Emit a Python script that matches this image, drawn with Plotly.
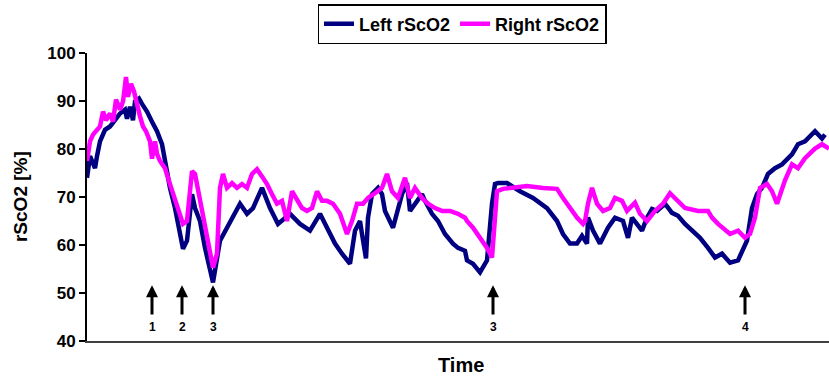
import plotly.graph_objects as go

# Time (arbitrary units) and rScO2 values
time_left = [0, 3, 6, 8, 10, 13, 18, 23, 28, 33, 38, 40, 43, 46, 48, 52, 55, 60, 65, 70, 75, 78,
             83, 88, 93, 96, 100, 103, 105, 108, 113, 118, 123, 126, 133, 140, 146, 153, 160, 166,
             175, 183, 191, 203, 213, 223, 233, 243, 248, 255, 263, 268, 273, 275, 279, 281, 285,
             291, 295, 298, 306, 315, 320, 323, 330, 335, 338, 345, 351, 358, 366, 371, 378, 380,
             386, 393, 400, 405, 408, 411, 415, 420, 433, 446, 460, 470, 476, 483, 490, 495, 500,
             501, 506, 513, 521, 528, 536, 541, 545, 550, 555, 560, 565, 570, 578, 585, 591, 598,
             605, 613, 621, 628, 635, 643, 651, 660, 665, 670, 675, 681, 688, 695, 705, 711, 718,
             728, 735, 738, 742]
left_rsco2 = [74.0, 78.5, 77.0, 76.0, 78.5, 81.6, 84.0, 84.7, 86.0, 87.4, 88.2, 86.3, 88.8, 86.0,
              89.9, 90.5, 89.4, 87.8, 85.7, 83.7, 81.0, 77.5, 71.9, 67.7, 62.3, 59.2, 60.9, 65.7,
              70.6, 67.7, 65.0, 59.4, 55.3, 52.2, 60.9, 63.6, 65.7, 68.6, 66.5, 67.7, 71.9, 67.7,
              64.4, 66.5, 64.4, 63.0, 66.5, 62.3, 60.3, 58.2, 56.1, 63.0, 65.0, 62.3, 57.2, 65.7,
              70.6, 71.9, 70.6, 67.1, 63.6, 70.6, 72.9, 67.1, 69.2, 70.6, 69.2, 66.5, 65.0, 62.3,
              60.3, 59.4, 58.8, 56.8, 56.1, 54.3, 56.8, 68.6, 72.7, 72.9, 72.9, 72.9, 71.2, 69.8,
              67.7, 65.0, 62.3, 60.3, 60.3, 61.9, 60.3, 65.7, 63.0, 60.3, 63.6, 65.7, 65.0, 61.5,
              65.7, 64.4, 63.0, 65.7, 67.5, 67.1, 68.6, 66.7, 66.1, 64.4, 63.0, 61.5, 59.4, 57.4,
              58.2, 56.3, 56.8, 60.9, 67.7, 70.6, 71.9, 74.8, 76.0, 76.8, 78.9, 81.0, 81.6, 83.7,
              82.2, 83.0]

time_right = [0, 3, 6, 9, 13, 16, 19, 23, 26, 29, 33, 36, 39, 41, 44, 47, 50, 53, 56, 59, 63, 65,
              68, 70, 73, 78, 83, 88, 93, 96, 100, 103, 105, 108, 113, 118, 123, 126, 130, 133,
              136, 140, 145, 150, 155, 160, 165, 170, 175, 180, 185, 190, 195, 200, 205, 210, 215,
              220, 225, 230, 235, 240, 246, 253, 260, 265, 270, 276, 281, 288, 295, 300, 305, 311,
              318, 323, 328, 335, 341, 348, 355, 363, 371, 378, 380, 386, 393, 400, 405, 408, 410,
              416, 426, 440, 456, 470, 476, 483, 490, 496, 498, 501, 505, 510, 516, 523, 528, 535,
              540, 548, 553, 560, 568, 576, 583, 598, 611, 621, 625, 631, 643, 651, 658, 663, 668,
              673, 680, 685, 690, 698, 705, 711, 718, 728, 735, 742]
right_rsco2 = [77.5, 81.6, 83.0, 83.7, 84.7, 87.8, 86.0, 87.4, 85.7, 90.3, 88.2, 89.9, 95.0, 90.9,
               93.6, 92.0, 88.8, 86.8, 84.7, 83.7, 81.6, 78.0, 81.6, 79.0, 77.5, 76.0, 72.7, 69.2,
               65.7, 64.4, 65.0, 71.9, 75.4, 74.8, 69.2, 63.6, 58.8, 55.3, 58.2, 71.9, 74.8, 71.9,
               72.9, 71.9, 72.7, 71.9, 74.8, 75.8, 74.3, 72.7, 70.6, 68.6, 69.2, 65.0, 71.2, 69.2,
               67.7, 67.1, 67.7, 71.2, 69.2, 69.2, 68.6, 66.5, 62.3, 65.0, 68.6, 68.6, 69.8, 70.8,
               71.9, 74.8, 71.2, 69.8, 74.0, 69.8, 71.9, 69.8, 68.6, 67.7, 67.1, 67.1, 66.5, 65.7,
               65.0, 63.6, 61.5, 59.4, 57.4, 65.0, 71.2, 71.7, 71.9, 72.3, 71.9, 71.7, 69.8, 67.7,
               65.7, 64.4, 65.0, 68.6, 71.9, 68.6, 67.1, 67.7, 69.8, 69.2, 67.1, 68.8, 66.5, 65.0,
               67.1, 68.6, 70.8, 67.7, 67.1, 67.1, 65.7, 64.4, 62.3, 63.0, 61.5, 62.3, 65.7, 71.9,
               72.7, 71.2, 68.6, 73.5, 76.8, 76.0, 78.1, 80.1, 81.0, 80.1, 79.5]

event_times = [65, 95, 126, 406, 658]
event_labels = ["1", "2", "3", "3", "4"]

y_ticks = [40, 50, 60, 70, 80, 90, 100]

font_family = "Liberation Sans, Arial, sans-serif"

fig = go.Figure()
fig.add_trace(go.Scatter(x=time_left, y=left_rsco2, mode="lines", name="Left rScO2",
                         line=dict(color="#000080", width=4.5)))
fig.add_trace(go.Scatter(x=time_right, y=right_rsco2, mode="lines", name="Right rScO2",
                         line=dict(color="#FF00FF", width=4.5)))

annotations = []
for t, lab in zip(event_times, event_labels):
    annotations.append(dict(x=t, y=51.6, ax=t, ay=45.2, xref="x", yref="y", axref="x", ayref="y",
                            showarrow=True, arrowhead=2, arrowsize=0.8, arrowwidth=3,
                            arrowcolor="black", text=""))
    annotations.append(dict(x=t, y=42.9, xref="x", yref="y", text=lab, showarrow=False,
                            font=dict(family=font_family, size=12, color="black", weight="bold")))

annotations.append(dict(x=(461 - 87) / 742, y=-0.083, xref="paper", yref="paper", text="Time",
                        showarrow=False, yanchor="middle", xanchor="center",
                        font=dict(family=font_family, size=20, color="black", weight="bold")))
annotations.append(dict(x=(20 - 87) / 742, y=0.5, xref="paper", yref="paper", text="rScO2 [%]",
                        showarrow=False, textangle=-90, xanchor="center", yanchor="middle",
                        font=dict(family=font_family, size=19, color="black", weight="bold")))

fig.update_layout(
    width=829, height=378,
    margin=dict(l=87, r=0, t=51, b=37),
    paper_bgcolor="white", plot_bgcolor="white",
    font=dict(family=font_family, color="black"),
    showlegend=True,
    legend=dict(orientation="h", x=462 / 829, xref="container", xanchor="center",
                y=1 - 4 / 378, yref="container", yanchor="top",
                bordercolor="black", borderwidth=1.5, bgcolor="white",
                font=dict(family=font_family, size=18, color="black", weight="bold"),
                itemwidth=30, tracegroupgap=0),
    annotations=annotations,
    xaxis=dict(range=[0, 742], showline=True, linecolor="#404040", linewidth=2,
               showticklabels=False, ticks="", showgrid=False, zeroline=False, fixedrange=True),
    yaxis=dict(range=[40, 100], tickvals=y_ticks, ticks="outside", ticklen=6, tickwidth=1.5,
               tickcolor="black", showline=True, linecolor="black", linewidth=2,
               showgrid=False, zeroline=False,
               tickfont=dict(family=font_family, size=17, color="black", weight="bold")),
)

fig.write_html("out.html", config={"displayModeBar": False},
               post_script="document.body.style.margin='0';document.body.style.overflow='hidden';")
